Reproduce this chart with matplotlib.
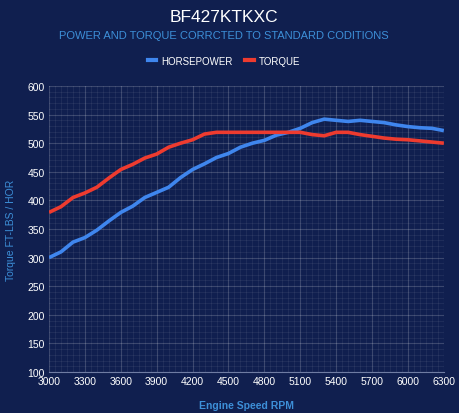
import numpy as np
import matplotlib
matplotlib.use('Agg')
import matplotlib.pyplot as plt
from matplotlib.ticker import MultipleLocator
from matplotlib.lines import Line2D

plt.rcParams['font.family'] = ['Liberation Sans', 'DejaVu Sans']

# Dyno readings, every 100 rpm
rpm = list(range(3000, 6301, 100))
horsepower = [300, 310, 327, 335, 348, 364, 379, 390, 405, 414, 423, 440, 454, 464,
              475, 482, 493, 500, 505, 514, 519, 526, 536, 542, 540, 538, 540, 538,
              536, 532, 529, 527, 526, 522]
torque = [379, 389, 405, 413, 423, 439, 454, 463, 474, 481, 493, 500, 506, 516,
          519, 519, 519, 519, 519, 519, 519, 519, 515, 513, 519, 519, 515, 512,
          509, 507, 506, 504, 502, 500]

BG = '#101f4f'
HP_COL = '#3f86ee'
TQ_COL = '#ee3b2f'
LABEL_COL = '#3d8fd8'

fig = plt.figure(figsize=(4.59, 4.14), dpi=100, facecolor=BG)
ax = fig.add_axes([0.1068, 0.099, 0.8602, 0.6909])
ax.set_facecolor(BG)

ax.plot(rpm, horsepower, color=HP_COL, lw=2.6, solid_capstyle='butt', zorder=3)
ax.plot(rpm, torque, color=TQ_COL, lw=2.6, solid_capstyle='butt', zorder=3)

ax.set_xlim(3000, 6300)
ax.set_ylim(100, 600)
ax.xaxis.set_major_locator(MultipleLocator(300))
ax.xaxis.set_minor_locator(MultipleLocator(50))
ax.yaxis.set_major_locator(MultipleLocator(50))
ax.yaxis.set_minor_locator(MultipleLocator(10))

ax.grid(which='major', color='#ffffff', alpha=0.18, lw=0.8)
ax.grid(which='minor', color='#ffffff', alpha=0.06, lw=0.8)
ax.set_axisbelow(True)

for s in ax.spines.values():
    s.set_visible(False)
ax.spines['bottom'].set_visible(True)
ax.spines['bottom'].set_color('#6f7ca3')
ax.spines['bottom'].set_linewidth(0.8)

ax.tick_params(which='both', length=0, colors='white', labelsize=7.5, pad=3)

ax.set_xlabel('Engine Speed RPM', color=LABEL_COL, fontsize=7.5, fontweight='bold', labelpad=10)
ax.set_ylabel('Torque FT-LBS / HOR', color=LABEL_COL, fontsize=7.5, labelpad=8)

fig.text(0.488, 0.958, 'BF427KTKXC', color='white', fontsize=12.5, ha='center', va='center')
fig.text(0.488, 0.914, 'POWER AND TORQUE CORRCTED TO STANDARD CODITIONS',
         color=LABEL_COL, fontsize=8, ha='center', va='center')

handles = [Line2D([], [], color=HP_COL, lw=3), Line2D([], [], color=TQ_COL, lw=3)]
leg = fig.legend(handles, ['HORSEPOWER', 'TORQUE'], loc='center', bbox_to_anchor=(0.488, 0.851),
                 ncol=2, frameon=False, fontsize=7, handlelength=0.9, columnspacing=1.3,
                 handletextpad=0.5)
for t in leg.get_texts():
    t.set_color('white')

fig.savefig('out.png', dpi=100, facecolor=BG)
